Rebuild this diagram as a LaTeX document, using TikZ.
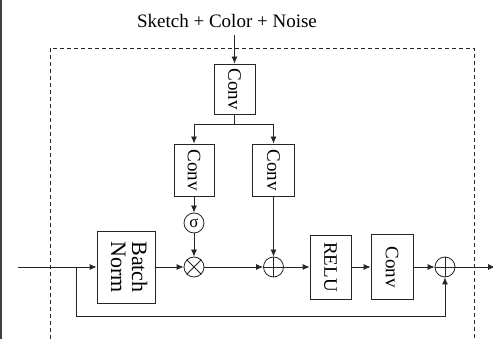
\documentclass[tikz,border=0pt]{standalone}
\usepackage{fontspec}
\setmainfont{Liberation Serif}
\usetikzlibrary{arrows.meta,calc}
\begin{document}
\begin{tikzpicture}[x=1pt,y=-1pt,line width=0.8pt,
  ln/.style={draw=black!85},
  arr/.style={draw=black!85,-{Latex[length=7pt,width=6pt]}},
  blk/.style={draw=black!85,rectangle,inner sep=0pt,font=\fontsize{19}{21}\selectfont},
  op/.style={draw=black!85,circle,inner sep=0pt,minimum size=20pt,font=\fontsize{17}{19}\selectfont},
  lbl/.style={font=\fontsize{19}{21}\selectfont,inner sep=0pt}]
\useasboundingbox (0,0) rectangle (493,339);
% left edge line
\draw[line width=2pt,black!75] (1,0) -- (1,339);
% dashed frame
\draw[ln,dash pattern=on 4pt off 3pt] (50,339) -- (50,48) -- (474,48) -- (474,339);
% title
\node[lbl] (title) at (227,21) {Sketch + Color + Noise};
% blocks
\node[blk,minimum width=41pt,minimum height=50pt] (conv1) at (234.5,89) {\rotatebox{-90}{Conv}};
\node[blk,minimum width=40pt,minimum height=52pt] (conv2) at (194,170) {\rotatebox{-90}{Conv}};
\node[blk,minimum width=42pt,minimum height=52pt] (conv3) at (273.5,170) {\rotatebox{-90}{Conv}};
\node[op] (sig) at (194,223) {σ};
\node[op] (mul) at (194,267) {};
\node[op] (add1) at (273.5,267) {};
\node[op] (add2) at (445,267) {};
\node[blk,minimum width=58pt,minimum height=72pt,font=\fontsize{22}{21}\selectfont] (bn) at (126,267) {\rotatebox{-90}{\begin{tabular}{@{}c@{}}Batch\\Norm\end{tabular}}};
\node[blk,minimum width=41pt,minimum height=64pt] (relu) at (330.5,267) {\rotatebox{-90}{RELU}};
\node[blk,minimum width=42pt,minimum height=65pt] (conv4) at (392,267) {\rotatebox{-90}{Conv}};
% operator glyphs
\draw[ln] (mul.north west) -- (mul.south east);
\draw[ln] (mul.north east) -- (mul.south west);
\draw[ln] (add1.north) -- (add1.south);
\draw[ln] (add1.west) -- (add1.east);
\draw[ln] (add2.north) -- (add2.south);
\draw[ln] (add2.west) -- (add2.east);
% coordinates
\coordinate (src) at (234.5,35);
\coordinate (br) at (234.5,124);
\coordinate (in) at (18,267);
\coordinate (skip) at (76,267);
\coordinate (out) at (495,267);
% connectors
\draw[arr] (src) -- (conv1.north);
\draw[ln] (conv1.south) -- (br);
\draw[arr] (br) -| (conv2.north);
\draw[arr] (br) -| (conv3.north);
\draw[arr] (conv2.south) -- (sig.north);
\draw[arr] (sig.south) -- (mul.north);
\draw[arr] (conv3.south) -- (add1.north);
\draw[arr] (in) -- (bn.west);
\draw[arr] (bn.east) -- (mul.west);
\draw[arr] (mul.east) -- (add1.west);
\draw[arr] (add1.east) -- (relu.west);
\draw[arr] (relu.east) -- (conv4.west);
\draw[arr] (conv4.east) -- (add2.west);
\draw[arr] (add2.east) -- (out);
\draw[arr] (skip) |- ++(0,49) -| (add2.south);
\end{tikzpicture}
\end{document}
